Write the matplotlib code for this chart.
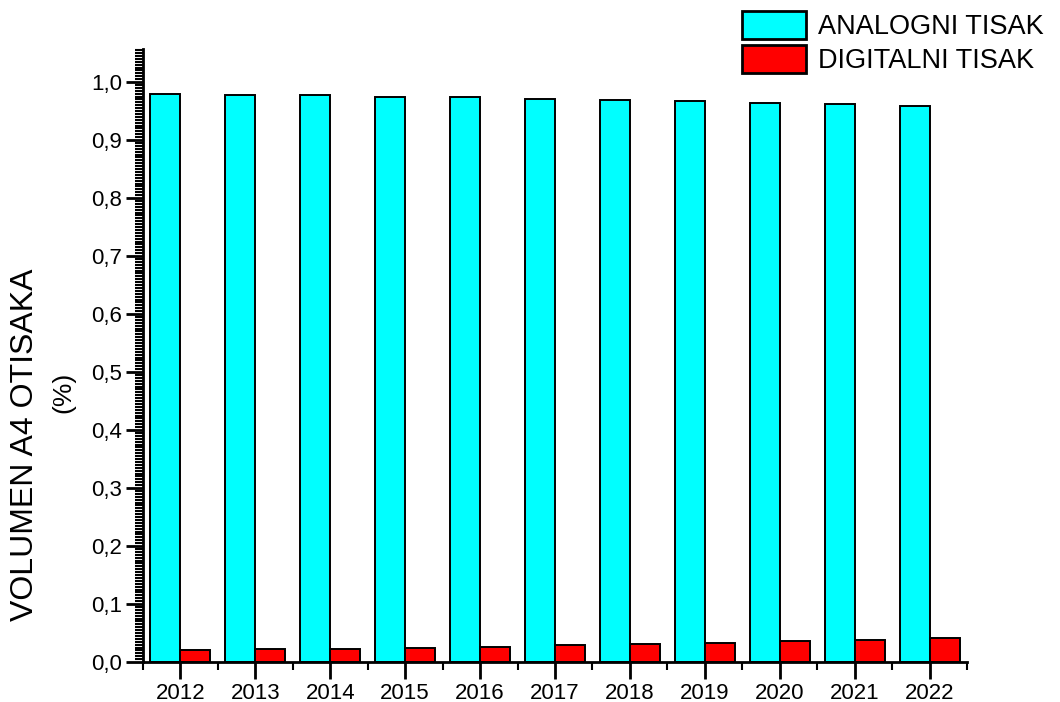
import numpy as np
import matplotlib
matplotlib.use('Agg')
import matplotlib.pyplot as plt
from matplotlib.ticker import MultipleLocator, FixedLocator, FuncFormatter

years = ['2012', '2013', '2014', '2015', '2016', '2017', '2018', '2019', '2020', '2021', '2022']
analogni = [0.979, 0.978, 0.977, 0.975, 0.974, 0.971, 0.969, 0.967, 0.964, 0.962, 0.958]
digitalni = [0.021, 0.022, 0.023, 0.025, 0.026, 0.029, 0.031, 0.033, 0.036, 0.038, 0.042]

plt.rcParams['font.family'] = ['Liberation Sans', 'DejaVu Sans']

fig = plt.figure(figsize=(10.6, 7.02), dpi=100)
ax = fig.add_axes([143 / 1060, 1 - 662 / 702, (967 - 143) / 1060, (662 - 49) / 702])

x = np.arange(len(years))
w = 0.4
b1 = ax.bar(x - w / 2, analogni, w, color='#00ffff', edgecolor='black', linewidth=1.4, label='ANALOGNI TISAK')
b2 = ax.bar(x + w / 2, digitalni, w, color='#ff0000', edgecolor='black', linewidth=1.4, label='DIGITALNI TISAK')

ax.set_xlim(-0.5, len(years) - 0.5)
ax.set_ylim(0, 1.057)

ax.set_xticks(x)
ax.set_xticklabels(years)
ax.xaxis.set_minor_locator(FixedLocator(np.arange(-0.5, len(years), 1.0)))
ax.yaxis.set_major_locator(MultipleLocator(0.1))
ax.yaxis.set_minor_locator(MultipleLocator(0.005))
ax.yaxis.set_major_formatter(FuncFormatter(lambda v, p: f'{v:.1f}'.replace('.', ',')))

for s in ['top', 'right']:
    ax.spines[s].set_visible(False)
for s in ['left', 'bottom']:
    ax.spines[s].set_linewidth(2)

ax.tick_params(axis='both', which='major', direction='out', length=12, width=2, labelsize=16, pad=3)
ax.tick_params(axis='both', which='minor', direction='out', length=6, width=1.5)

fig.text(25 / 1060, 1 - 445 / 702, 'VOLUMEN A4 OTISAKA', rotation=90, ha='center', va='center', fontsize=23)
fig.text(63 / 1060, 1 - 392 / 702, '(%)', rotation=90, ha='center', va='center', fontsize=19)

leg = fig.legend(handles=[b1, b2], loc='upper left', bbox_to_anchor=(742 / 1060, 1 - 11 / 702),
                 frameon=False, fontsize=19.5, handlelength=2.35, handleheight=1.2,
                 handletextpad=0.45, labelspacing=0.18, borderpad=0, borderaxespad=0)
for p in leg.get_patches():
    p.set_linewidth(2)

fig.savefig('out.png', dpi=100)
